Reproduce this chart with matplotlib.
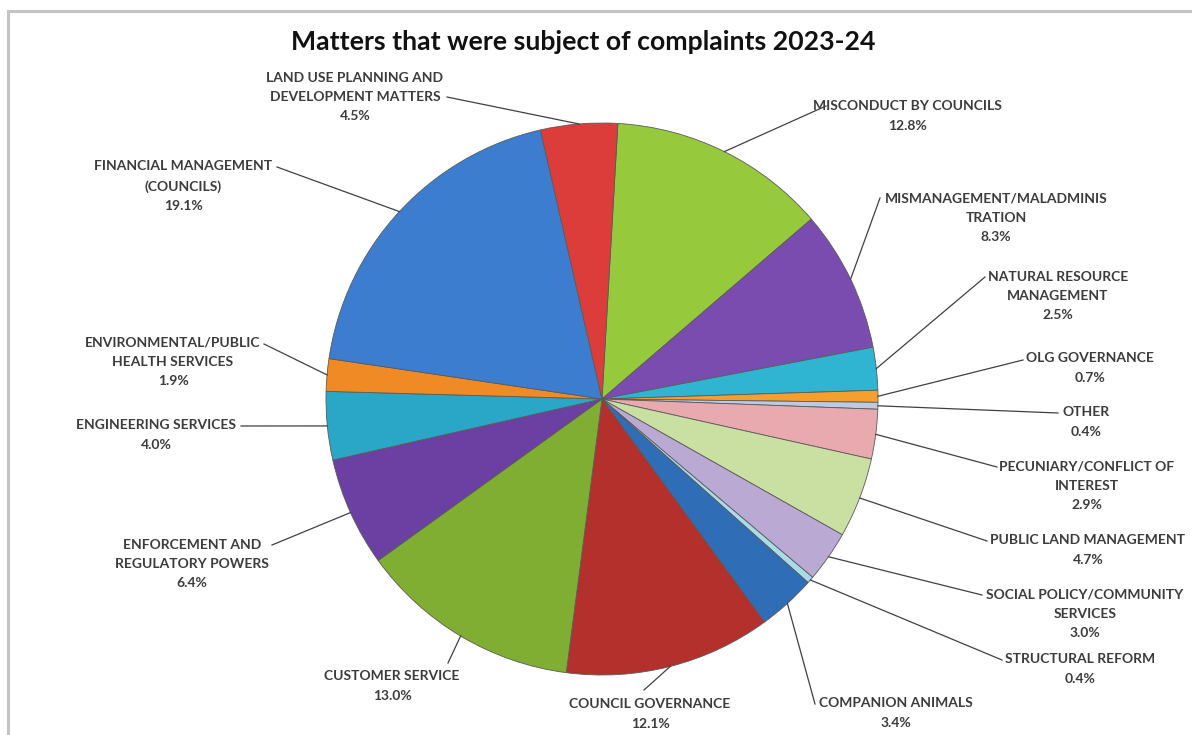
import numpy as np
import matplotlib.pyplot as plt

W, H = 1192, 735

# slices, clockwise from the top of the pie
names = ['MISCONDUCT BY COUNCILS', 'MISMANAGEMENT/MALADMINIS\nTRATION',
         'NATURAL RESOURCE\nMANAGEMENT', 'OLG GOVERNANCE', 'OTHER',
         'PECUNIARY/CONFLICT OF\nINTEREST', 'PUBLIC LAND MANAGEMENT',
         'SOCIAL POLICY/COMMUNITY\nSERVICES', 'STRUCTURAL REFORM',
         'COMPANION ANIMALS', 'COUNCIL GOVERNANCE', 'CUSTOMER SERVICE',
         'ENFORCEMENT AND\nREGULATORY POWERS', 'ENGINEERING SERVICES',
         'ENVIRONMENTAL/PUBLIC\nHEALTH SERVICES', 'FINANCIAL MANAGEMENT\n(COUNCILS)',
         'LAND USE PLANNING AND\nDEVELOPMENT MATTERS']
shares = [12.8, 8.3, 2.5, 0.7, 0.4, 2.9, 4.7, 3.0, 0.4, 3.4, 12.1, 13.0, 6.4, 4.0, 1.9, 19.1, 4.5]
colors = ['#97c93d', '#7b4cb0', '#2fb4d2', '#f5a02e', '#bccbe3', '#e8aaae', '#cadfa2',
          '#b9a9d3', '#a9dbe8', '#2f6db6', '#b3302c', '#7fae33', '#6c3fa2', '#2aa6c7',
          '#f08a24', '#3c7dd0', '#dc3d3a']

# label layout (pixel coords: text centre, leader end)
label_xy = [(907, 116), (996, 218), (1058, 296), (1090, 368), (1086, 422), (1087, 486),
            (1088, 550), (1085, 614), (1080, 669), (896, 713), (650, 714), (392, 686),
            (192, 564), (156, 435), (173, 362), (183, 186), (355, 97)]
leader_end = [(826, 106), (880, 198), (985, 277), (1023, 360), (1058, 413), (997, 467),
              (987, 541), (982, 595), (1002, 660), (815, 704), (644, 690), (448, 663),
              (272, 545), (241, 426), (264, 344), (277, 167), (447, 97)]

cx, cy, r = 602, 399, 276
start = 86.7

fig = plt.figure(figsize=(W / 100, H / 100), dpi=100)
ax = fig.add_axes([0, 0, 1, 1])

wedges, _ = ax.pie(shares, colors=colors, center=(cx, H - cy), radius=r,
                   startangle=start, counterclock=False, frame=True,
                   wedgeprops=dict(edgecolor='#5a5a5a', linewidth=0.6))
ax.set_xlim(0, W)
ax.set_ylim(0, H)
ax.set_aspect('equal')
ax.axis('off')

for w, name, v, (tx, ty), (lx, ly) in zip(wedges, names, shares, label_xy, leader_end):
    mid = np.deg2rad((w.theta1 + w.theta2) / 2)
    ex = cx + r * np.cos(mid)
    ey = H - cy + r * np.sin(mid)
    ax.plot([ex, lx], [ey, H - ly], color='#404040', lw=0.9)
    ax.text(tx, H - ty, name + '\n' + f'{v:.1f}%', ha='center', va='center',
            multialignment='center', fontsize=10, family='Lato', color='#3c3c3c',
            fontweight='bold', linespacing=1.72)

fig.text(583 / W, 1 - 42 / H, 'Matters that were subject of complaints 2023-24',
         ha='center', va='center', fontsize=19.2, fontweight='bold', family='Lato',
         color='#111111')

# frame of the chart area
ax.plot([8, 8], [0, H - 11], color='#c4c4c4', lw=2.2)
ax.plot([8, W], [H - 11, H - 11], color='#c4c4c4', lw=2.2)

fig.savefig('out.png', dpi=100, facecolor='white')
